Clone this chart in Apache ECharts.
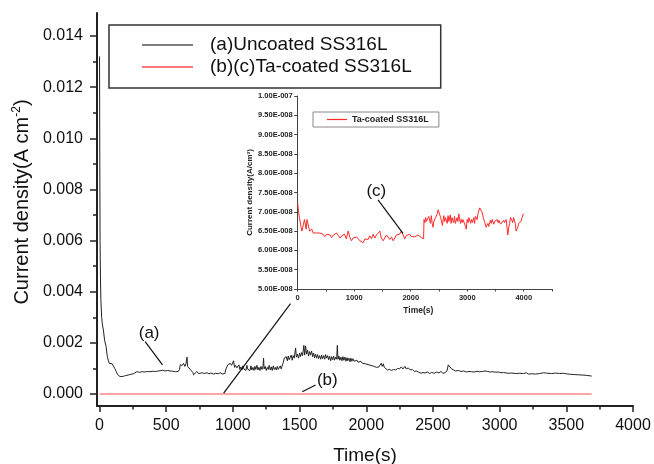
<!DOCTYPE html>
<html>
<head>
<meta charset="utf-8">
<script src="https://cdn.jsdelivr.net/npm/echarts@6/dist/echarts.min.js"></script>
<style>
html,body{margin:0;padding:0;background:#fff;}
#chart{width:654px;height:464px;}
</style>
</head>
<body>
<div id="chart"></div>
<script>
// ---- Data ----
// Main plot: time (s) vs current density (A cm^-2)
const uncoatedData = [
[0,0.0132],[2,0.0090],[4,0.0060],[7,0.0045],[10,0.0037],[16,0.0030],[22,0.0027],[29,0.0025],[38,0.0021],[49,0.00186],[55,0.0016],[59,0.00146],[66,0.0013],[74,0.0012],[85,0.00116],[95,0.00118],[104,0.00112],[114,0.0010],[125,0.00088],[135,0.00076],[145,0.0007],[154,0.00068],[165,0.00067],[179,0.00069],[195,0.00072],[215,0.00074],[235,0.00077],[254,0.00079],[265,0.00085],[279,0.00087],[300,0.00085],[320,0.00087],[340,0.00086],[360,0.00088],[378,0.00087],[400,0.00089],[420,0.00088],[440,0.0009],[455,0.00091],[475,0.00093],[490,0.0009],[510,0.00092],[530,0.0009],[550,0.00089],[570,0.00087],[590,0.00088],[600,0.00096],[605,0.00114],[612,0.0012],[620,0.00112],[630,0.0012],[640,0.00108],[648,0.00118],[656,0.00144],[660,0.00108],[668,0.00102],[680,0.00096],[693,0.00094],[700,0.00084],[705,0.00075],[715,0.00082],[730,0.00088],[742,0.0008],[755,0.00078],[770,0.00083],[785,0.0008],[805,0.00083],[820,0.00079],[835,0.00082],[855,0.00078],[870,0.00081],[890,0.00079],[905,0.00083],[920,0.00078],[930,0.00075],[940,0.0008],[948,0.00098],[955,0.00102],[962,0.00114],[970,0.00108],[980,0.0012],[990,0.00112],[1000,0.00108],[1005,0.0013],[1012,0.00104],[1020,0.00112],[1030,0.00102],[1038,0.00098],[1045,0.00114],[1052,0.00096],[1060,0.00106],[1068,0.00094],[1075,0.0011],[1082,0.00098],[1090,0.00104],[1097,0.00092],[1105,0.00112],[1112,0.00096],[1120,0.00102],[1128,0.00092],[1135,0.0011],[1142,0.00094],[1150,0.00104],[1158,0.00092],[1165,0.00108],[1172,0.00096],[1180,0.00112],[1188,0.00094],[1195,0.00104],[1203,0.00092],[1210,0.00108],[1218,0.00096],[1225,0.00106],[1230,0.0014],[1234,0.00098],[1242,0.00108],[1250,0.00092],[1258,0.00104],[1265,0.00096],[1272,0.00112],[1280,0.00094],[1288,0.00106],[1295,0.00092],[1303,0.0011],[1310,0.00096],[1318,0.00104],[1325,0.00094],[1333,0.00108],[1340,0.00096],[1348,0.00102],[1355,0.0011],[1362,0.00098],[1370,0.00104],[1378,0.00124],[1385,0.0014],[1393,0.00137],[1400,0.00146],[1408,0.0013],[1415,0.00148],[1422,0.00134],[1430,0.0014],[1437,0.00152],[1445,0.00132],[1452,0.0015],[1460,0.0014],[1470,0.0018],[1476,0.00144],[1484,0.00156],[1492,0.0014],[1500,0.0016],[1507,0.00146],[1515,0.00162],[1522,0.0015],[1532,0.0019],[1538,0.00152],[1545,0.00188],[1552,0.00156],[1560,0.00172],[1567,0.00148],[1575,0.00166],[1582,0.00152],[1590,0.00168],[1598,0.00146],[1605,0.0016],[1612,0.00142],[1620,0.00156],[1627,0.0014],[1635,0.00154],[1642,0.00138],[1650,0.0015],[1658,0.00136],[1665,0.00152],[1672,0.00138],[1680,0.0015],[1688,0.00136],[1695,0.00154],[1702,0.0014],[1710,0.0015],[1718,0.00134],[1725,0.00148],[1733,0.0013],[1740,0.00146],[1748,0.00134],[1755,0.00148],[1762,0.00132],[1770,0.00144],[1778,0.00136],[1783,0.0019],[1788,0.00136],[1795,0.00148],[1802,0.00132],[1810,0.00144],[1818,0.0013],[1825,0.00146],[1832,0.00132],[1840,0.00144],[1848,0.00128],[1855,0.00142],[1862,0.0013],[1870,0.0014],[1878,0.00126],[1885,0.0014],[1892,0.00128],[1900,0.00138],[1908,0.00128],[1915,0.00134],[1922,0.00122],[1930,0.00132],[1938,0.00124],[1945,0.0013],[1952,0.0012],[1960,0.00128],[1970,0.0012],[1983,0.00127],[1995,0.00118],[2005,0.00122],[2020,0.00114],[2034,0.0012],[2045,0.0011],[2060,0.00108],[2075,0.00104],[2083,0.001],[2095,0.00106],[2105,0.00104],[2112,0.0012],[2120,0.00108],[2128,0.00118],[2135,0.00104],[2145,0.00098],[2159,0.00094],[2175,0.00096],[2190,0.00092],[2205,0.00096],[2220,0.00094],[2235,0.001],[2250,0.00098],[2262,0.00106],[2275,0.00098],[2290,0.00108],[2300,0.00098],[2315,0.00102],[2330,0.00094],[2345,0.00096],[2360,0.00088],[2375,0.0009],[2390,0.00086],[2410,0.00081],[2425,0.00084],[2440,0.00082],[2460,0.00086],[2475,0.0008],[2490,0.00084],[2510,0.00081],[2530,0.00086],[2545,0.00082],[2560,0.00088],[2575,0.00081],[2590,0.00083],[2605,0.0009],[2615,0.00114],[2625,0.00108],[2640,0.00098],[2655,0.00094],[2670,0.0009],[2690,0.00092],[2710,0.00088],[2730,0.0009],[2750,0.00086],[2770,0.00088],[2790,0.00087],[2810,0.00086],[2830,0.00089],[2850,0.00087],[2870,0.00088],[2890,0.0009],[2911,0.00088],[2930,0.00086],[2950,0.00087],[2970,0.00085],[2990,0.00086],[3010,0.00083],[3030,0.00084],[3061,0.00081],[3090,0.00082],[3120,0.0008],[3150,0.00081],[3180,0.0008],[3200,0.00083],[3215,0.00078],[3240,0.00079],[3270,0.00078],[3300,0.0008],[3330,0.00083],[3345,0.00082],[3361,0.00081],[3390,0.0008],[3420,0.00082],[3450,0.0008],[3480,0.00081],[3500,0.00079],[3530,0.00077],[3560,0.00076],[3590,0.00075],[3620,0.00074],[3650,0.00073],[3690,0.0007]
];
const coatedMainData = [[0,0],[3690,0]];

// Inset: time (s) vs current density in units of 1E-008 A/cm2
const insetUnit = 1e-8;
const coatedInsetData = [
[0,7.22],[15,7.0],[30,6.85],[45,6.9],[60,6.6],[75,6.5],[90,6.55],[105,6.5],[120,6.8],[135,6.75],[150,6.55],[165,6.8],[180,6.8],[195,6.6],[210,6.5],[230,6.5],[250,6.55],[275,6.45],[300,6.5],[330,6.45],[360,6.4],[390,6.45],[420,6.4],[450,6.42],[480,6.36],[510,6.42],[540,6.45],[570,6.4],[600,6.33],[630,6.4],[660,6.35],[690,6.45],[720,6.38],[750,6.32],[780,6.38],[806,6.35],[830,6.42],[860,6.3],[894,6.5],[920,6.35],[953,6.25],[980,6.32],[1010,6.28],[1041,6.35],[1070,6.3],[1100,6.25],[1129,6.3],[1159,6.2],[1190,6.3],[1218,6.35],[1245,6.28],[1275,6.38],[1306,6.3],[1335,6.42],[1365,6.32],[1394,6.4],[1420,6.35],[1453,6.5],[1480,6.32],[1512,6.25],[1540,6.3],[1570,6.4],[1600,6.35],[1630,6.28],[1660,6.35],[1688,6.25],[1718,6.32],[1747,6.4],[1775,6.35],[1805,6.42],[1835,6.5],[1865,6.4],[1894,6.3],[1920,6.38],[1950,6.33],[1982,6.42],[2010,6.36],[2040,6.4],[2071,6.35],[2100,6.32],[2130,6.4],[2159,6.38],[2190,6.33],[2218,6.35],[2228,6.3],[2235,6.8],[2250,6.72],[2265,6.85],[2276,6.75],[2290,6.8],[2305,6.7],[2320,6.88],[2335,6.85],[2350,6.7],[2365,6.9],[2380,6.7],[2394,6.6],[2410,6.75],[2425,6.7],[2440,6.85],[2453,6.9],[2470,6.95],[2485,7.05],[2500,7.1],[2515,7.0],[2530,6.85],[2545,6.8],[2560,6.65],[2571,6.7],[2585,6.9],[2600,6.75],[2615,6.85],[2629,6.85],[2645,6.7],[2660,6.9],[2675,6.75],[2688,6.75],[2700,6.92],[2715,6.7],[2730,6.85],[2747,6.9],[2760,6.72],[2775,6.88],[2790,6.7],[2806,6.65],[2820,6.85],[2835,6.75],[2850,6.95],[2865,6.9],[2880,6.7],[2895,6.8],[2910,6.72],[2924,6.8],[2940,6.75],[2955,6.85],[2970,6.62],[2982,6.55],[3000,6.8],[3015,6.72],[3030,6.85],[3041,6.85],[3060,6.7],[3075,6.8],[3090,6.72],[3100,6.75],[3115,6.85],[3130,6.7],[3145,6.88],[3159,6.9],[3175,6.8],[3190,6.95],[3205,7.0],[3220,7.1],[3229,7.15],[3245,7.05],[3260,7.0],[3276,6.95],[3290,6.82],[3305,6.75],[3320,6.7],[3335,6.6],[3350,6.65],[3365,6.7],[3380,6.62],[3394,6.65],[3410,6.78],[3425,6.7],[3440,6.8],[3453,6.75],[3470,6.68],[3485,6.75],[3500,6.7],[3512,6.7],[3530,6.8],[3545,6.72],[3560,6.78],[3571,6.75],[3590,6.68],[3605,6.72],[3620,6.7],[3629,6.7],[3645,6.78],[3660,6.72],[3675,6.75],[3688,6.8],[3700,6.65],[3718,6.4],[3735,6.6],[3750,6.7],[3765,6.85],[3776,6.8],[3790,6.78],[3805,6.72],[3820,6.85],[3835,6.85],[3850,6.7],[3865,6.5],[3880,6.45],[3894,6.6],[3910,6.7],[3925,6.75],[3940,6.7],[3953,6.75],[3970,6.85],[3985,6.9],[3994,6.95]
];

// Tick values
const mainXTicks = [0,500,1000,1500,2000,2500,3000,3500,4000];
const mainXMinorTicks = [250,750,1250,1750,2250,2750,3250,3750];
const mainYTicks = [0,0.002,0.004,0.006,0.008,0.010,0.012,0.014];
const mainYMinorTicks = [0.001,0.003,0.005,0.007,0.009,0.011,0.013];
const insetXLabels = [0,1000,2000,3000,4000];
const insetYTicks = [5,5.5,6,6.5,7,7.5,8,8.5,9,9.5,10];

// Series names
const nameUncoated = '(a)Uncoated SS316L';
const nameCoatedMain = '(b)(c)Ta-coated SS316L';
const nameCoatedInset = 'Ta-coated SS316L';

// Annotations (data coordinates)
const arrowA = [[342,0.00205],[472,0.00114]];
const arrowB = [[1620,0.00035],[1520,0.00009]];
const arrowBig = [[931,0.00003],[1432,0.00353]];
const arrowC = [[1422,7.31],[1863,6.44]];
const labelA = {text:'(a)', at:[372,0.00239]};
const labelB = {text:'(b)', at:[1708,0.00055]};
const labelC = {text:'(c)', at:[1391,7.52]};

// ---- Chart ----
const FONT = 'Liberation Sans, Arial, sans-serif';
const chart = echarts.init(document.getElementById('chart'), null, {renderer:'canvas'});

function sci(v){
  const s = (v*insetUnit).toExponential(2).split('e');
  const e = parseInt(s[1],10);
  const sign = e<0?'-':'+';
  return s[0] + 'E' + sign + String(Math.abs(e)).padStart(3,'0');
}
const plain = (v) => String(Math.round(v));

const option = {
  animation:false,
  backgroundColor:'#fff',
  grid:[
    {left:97, top:13, right:21, bottom:58, outerBoundsMode:'none', containLabel:false},
    {left:297.7, top:96, right:102, bottom:175, outerBoundsMode:'none', containLabel:false}
  ],
  legend:[
    {
      data:[nameUncoated, nameCoatedMain],
      orient:'vertical', left:109, top:25,
      padding:[10.5,29,11.5,33], itemGap:3, itemWidth:51, itemHeight:1.5,
      icon:'rect',
      borderColor:'#333', borderWidth:1.5,
      textStyle:{fontSize:19, fontFamily:FONT, color:'#111', padding:[0,0,0,12]},
      selectedMode:false
    },
    {
      data:[nameCoatedInset],
      orient:'vertical', left:313, top:112,
      padding:[3,10,3,14], itemWidth:20, itemHeight:1.2,
      icon:'rect',
      borderColor:'#888', borderWidth:1,
      textStyle:{fontSize:9, fontWeight:'bold', fontFamily:FONT, color:'#222'},
      selectedMode:false
    }
  ],
  xAxis:[
    {
      gridIndex:0, type:'value', min:-19, max:4000,
      name:'Time(s)', nameLocation:'middle', nameGap:40,
      nameTextStyle:{fontSize:19, fontFamily:FONT, color:'#111'},
      axisLine:{show:true, onZero:false, lineStyle:{color:'#222', width:2}},
      axisTick:{show:true, customValues:mainXTicks, length:6, lineStyle:{color:'#222', width:1.5}},
      axisLabel:{show:true, customValues:mainXTicks, fontSize:16, fontFamily:FONT, color:'#111', margin:12, formatter:plain},
      splitLine:{show:false}
    },
    {
      gridIndex:0, type:'value', min:-19, max:4000, position:'bottom',
      axisLine:{show:false, onZero:false},
      axisTick:{show:true, customValues:mainXMinorTicks, length:3.5, lineStyle:{color:'#222', width:1.5}},
      axisLabel:{show:false}, splitLine:{show:false}
    },
    {
      gridIndex:1, type:'value', min:0, max:4500, interval:500,
      name:'Time(s)', nameLocation:'middle', nameGap:17,
      nameTextStyle:{fontSize:8.5, fontWeight:'bold', fontFamily:FONT, color:'#222', padding:[0,13,0,0]},
      axisLine:{show:true, onZero:false, lineStyle:{color:'#444', width:1}},
      axisTick:{show:true, length:2.5, lineStyle:{color:'#444', width:1}},
      axisLabel:{show:true, customValues:insetXLabels, fontSize:7.5, fontWeight:'bold', fontFamily:FONT, color:'#222', margin:5, formatter:plain},
      splitLine:{show:false}
    }
  ],
  yAxis:[
    {
      gridIndex:0, type:'value', min:-0.00047, max:0.0149,
      name:'Current density(A cm{sup|-2})', nameLocation:'middle', nameGap:63, nameRotate:90,
      nameTextStyle:{fontSize:20, fontFamily:FONT, color:'#111', padding:[0,0,0,15],
        rich:{sup:{fontSize:12, fontFamily:FONT, color:'#111', verticalAlign:'top', padding:[0,0,10,0]}}},
      axisLine:{show:true, onZero:false, lineStyle:{color:'#222', width:2}},
      axisTick:{show:true, customValues:mainYTicks, length:7, lineStyle:{color:'#222', width:1.5}},
      axisLabel:{show:true, customValues:mainYTicks, fontSize:16, fontFamily:FONT, color:'#111', margin:14,
        formatter:(v)=>v.toFixed(3)},
      splitLine:{show:false}
    },
    {
      gridIndex:0, type:'value', min:-0.00047, max:0.0149, position:'left',
      axisLine:{show:false, onZero:false},
      axisTick:{show:true, customValues:mainYMinorTicks, length:4, lineStyle:{color:'#222', width:1.5}},
      axisLabel:{show:false}, splitLine:{show:false}
    },
    {
      gridIndex:1, type:'value', min:5, max:10, interval:0.5,
      name:'Current density(A/cm³)', nameLocation:'middle', nameGap:44, nameRotate:90,
      nameTextStyle:{fontSize:8, fontWeight:'bold', fontFamily:FONT, color:'#222'},
      axisLine:{show:true, onZero:false, lineStyle:{color:'#444', width:1}},
      axisTick:{show:true, customValues:insetYTicks, length:3.5, lineStyle:{color:'#444', width:1}},
      axisLabel:{show:true, customValues:insetYTicks, fontSize:7.5, fontWeight:'bold', fontFamily:FONT, color:'#222', margin:5,
        formatter:(v)=>sci(v)},
      splitLine:{show:false}
    }
  ],
  series:[
    {
      name:nameUncoated, type:'line', xAxisIndex:0, yAxisIndex:0,
      data:uncoatedData, symbol:'none', showSymbol:false,
      lineStyle:{color:'#222', width:1}, itemStyle:{color:'#555'},
      emphasis:{disabled:true},
      markLine:{
        silent:true, symbol:['none','arrow'], symbolSize:[0,9],
        label:{show:false}, emphasis:{disabled:true},
        lineStyle:{color:'#111', type:'solid', width:1.2},
        data:[
          [{coord:arrowA[0]},{coord:arrowA[1]}],
          [{coord:arrowBig[0]},{coord:arrowBig[1]}],
          [{coord:arrowB[0]},{coord:arrowB[1]}]
        ]
      }
    },
    {
      name:nameCoatedMain, type:'line', xAxisIndex:1, yAxisIndex:1,
      data:coatedMainData, symbol:'none', showSymbol:false,
      lineStyle:{color:'#ff4a4a', width:1.2}, itemStyle:{color:'#ff4a4a'},
      emphasis:{disabled:true}
    },
    {
      name:nameCoatedInset, type:'line', xAxisIndex:2, yAxisIndex:2,
      data:coatedInsetData, symbol:'none', showSymbol:false,
      lineStyle:{color:'#ff2a2a', width:1}, itemStyle:{color:'#ff2a2a'},
      emphasis:{disabled:true},
      markLine:{
        silent:true, symbol:['none','arrow'], symbolSize:[0,8],
        label:{show:false}, emphasis:{disabled:true},
        lineStyle:{color:'#111', type:'solid', width:1.2},
        data:[[{coord:arrowC[0]},{coord:arrowC[1]}]]
      }
    }
  ]
};
chart.setOption(option);

function txt(lbl, finder, size){
  const p = chart.convertToPixel(finder, lbl.at);
  return {type:'text', x:p[0], y:p[1], silent:true,
    style:{text:lbl.text, fontSize:size, fontFamily:FONT, fill:'#111', align:'center', verticalAlign:'middle'}};
}
chart.setOption({
  graphic:[
    txt(labelA, {xAxisIndex:0, yAxisIndex:0}, 17),
    txt(labelB, {xAxisIndex:0, yAxisIndex:0}, 17),
    txt(labelC, {xAxisIndex:2, yAxisIndex:2}, 17)
  ]
});
</script>
</body>
</html>
